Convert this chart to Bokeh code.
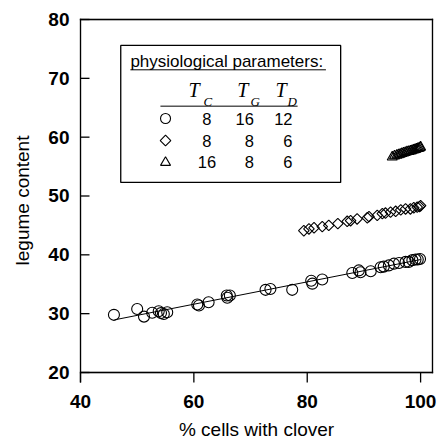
import numpy as np
from bokeh.plotting import figure
from bokeh.models import Range1d, FixedTicker, BoxAnnotation
from bokeh.core.properties import value
from bokeh.embed import file_html
from bokeh.resources import INLINE

# ---- data ----
circ_x = [45.9, 50.0, 51.2, 52.65, 53.8, 54.2, 54.7, 55.3, 60.6, 60.9, 62.6, 65.8, 65.9, 66.35,
          72.65, 73.5, 77.35, 80.7, 80.9, 82.65, 87.95, 89.1, 89.4, 91.2, 92.95, 93.5, 94.4,
          95.3, 96.2, 97.35, 97.9, 98.55, 99.1, 99.5, 99.9]
circ_y = [29.8, 30.8, 29.5, 30.15, 30.4, 30.1, 29.95, 30.25, 31.55, 31.4, 31.95, 33.1, 32.7, 33.1,
          34.05, 34.2, 34.05, 35.6, 35.1, 35.8, 36.9, 37.35, 37.05, 37.2, 37.9, 38.0, 38.2,
          38.5, 38.6, 38.8, 38.8, 39.1, 39.2, 39.2, 39.3]

diam_x = [79.4, 80.3, 81.2, 82.65, 83.8, 85.4, 87.05, 87.65, 88.8, 90.6, 90.9, 92.35, 93.25,
          93.8, 94.7, 95.6, 96.5, 97.35, 98.2, 98.8, 99.4, 99.8, 100.0]
diam_y = [44.1, 44.4, 44.6, 44.8, 45.0, 45.3, 45.7, 45.8, 46.1, 46.3, 46.5, 46.7, 47.0,
          47.1, 47.25, 47.4, 47.65, 47.8, 47.8, 48.0, 48.1, 48.2, 48.35]

tri_x = [95.0, 95.4, 95.8, 96.1, 96.4, 96.7, 97.0, 97.3, 97.6, 97.9, 98.2, 98.4, 98.7, 98.9,
         99.1, 99.3, 99.5, 99.7, 99.9, 100.0]
tri_y = [56.6, 56.8, 56.9, 57.0, 57.1, 57.2, 57.3, 57.4, 57.5, 57.55, 57.65, 57.7, 57.8, 57.85,
         57.9, 58.0, 58.05, 58.1, 58.2, 58.3]

fit_x = [46.0, 100.0]
fit_y = [28.95, 39.2]

x_ticks = [40, 60, 80, 100]
y_ticks = [20, 30, 40, 50, 60, 70, 80]

legend_title = "physiological parameters:"
param_names = ["C", "G", "D"]
param_rows = [["8", "16", "12"], ["8", "8", "6"], ["16", "8", "6"]]
row_markers = ["circle", "diamond", "triangle"]

FONT = "Liberation Sans"

# axes box limits (data units) and pixel scale helpers (layout only)
XMIN, XMAX, YMIN, YMAX = 40.0, 102.1, 20.0, 80.0
PXX, PXY = 5.668, 5.883          # pixels per data unit
YTICK_LEN = 9 / PXX              # inward y ticks
XTICK_LEN = 10 / PXY             # outward x ticks
HX = 0.65 / PXX                  # half line thickness in x units
HY = 0.65 / PXY                  # half line thickness in y units

p = figure(width=440, height=442, output_backend="svg", toolbar_location=None,
           x_range=Range1d(XMIN - 1 / PXX, XMAX + 1 / PXX),
           y_range=Range1d(YMIN - XTICK_LEN, YMAX + 1 / PXY),
           min_border_left=79, min_border_right=7, min_border_top=18, min_border_bottom=60)
p.background_fill_color = None
p.border_fill_color = None
p.outline_line_color = None
p.xgrid.grid_line_color = None
p.ygrid.grid_line_color = None

for ax in (p.xaxis[0], p.yaxis[0]):
    ax.axis_line_color = None
    ax.major_tick_line_color = None
    ax.minor_tick_line_color = None
    ax.major_tick_in = 0
    ax.major_tick_out = 0
    ax.major_label_text_font = FONT
    ax.major_label_text_font_size = "19px"
    ax.major_label_text_font_style = "bold"
    ax.major_label_text_color = "black"
    ax.axis_label_text_font = FONT
    ax.axis_label_text_font_size = "19px"
    ax.axis_label_text_font_style = "normal"
    ax.axis_label_text_color = "black"

p.xaxis.ticker = FixedTicker(ticks=x_ticks)
p.yaxis.ticker = FixedTicker(ticks=y_ticks)
p.xaxis.major_label_standoff = 12
p.xaxis.axis_label = "% cells with clover"
p.xaxis.axis_label_standoff = 8
p.yaxis.major_label_standoff = 10
p.yaxis.axis_label = "legume content"
p.yaxis.axis_label_standoff = 12

# white plot box under the data (its border is the frame)
p.add_layout(BoxAnnotation(left=XMIN, right=XMAX, bottom=YMIN, top=YMAX, fill_color="white",
                           fill_alpha=1, line_color="black", line_width=1.3, level="underlay"))

# frame edges and ticks as thin filled bars
bar_l = [XMIN - HX, XMIN - HX, XMAX - HX, XMIN - HX]
bar_r = [XMIN + HX, XMAX + HX, XMAX + HX, XMAX + HX]
bar_b = [YMIN - XTICK_LEN, YMIN - HY, YMIN - HY, YMAX - HY]
bar_t = [YMAX + HY, YMIN + HY, YMAX + HY, YMAX + HY]
bar_l += [XMIN] * len(y_ticks)
bar_r += [XMIN + YTICK_LEN] * len(y_ticks)
bar_b += [yt - HY for yt in y_ticks]
bar_t += [yt + HY for yt in y_ticks]
bar_l += [xt - HX for xt in x_ticks]
bar_r += [xt + HX for xt in x_ticks]
bar_b += [YMIN - XTICK_LEN] * len(x_ticks)
bar_t += [YMIN] * len(x_ticks)
p.quad(left=bar_l, right=bar_r, bottom=bar_b, top=bar_t, fill_color="black", fill_alpha=1,
       line_color=None, level="overlay")

# data
p.line(fit_x, fit_y, line_color="black", line_width=1)
p.scatter(circ_x, circ_y, marker="circle", size=11, fill_color=None, line_color="black", line_width=1.1)
p.scatter(diam_x, diam_y, marker="square", angle=np.pi / 4, size=7.5, fill_color=None,
          line_color="black", line_width=1.1)
p.scatter(tri_x, tri_y, marker="triangle", size=10, fill_color=None, line_color="black", line_width=1.1)

# ---- legend table (layout in data units) ----
LX0, LX1, LY0, LY1 = 47.1, 85.9, 52.3, 75.6
p.add_layout(BoxAnnotation(left=LX0, right=LX1, bottom=LY0, top=LY1, fill_color="white", fill_alpha=1,
                           line_color="black", line_width=1.3, line_alpha=1, level="annotation"))
p.text([48.8], [72.8], text=[legend_title], text_font=value(FONT), text_font_size="17px",
       text_baseline="middle", text_align="left", text_color="black", level="overlay")
p.line([48.8, 83.3], [71.45, 71.45], line_color="black", line_width=1, level="overlay")

head_T_x = [59.06, 67.65, 74.4]
head_sub_x = [61.7, 70.0, 76.5]
p.text(head_T_x, [67.95] * 3, text=["T"] * 3, text_font=value("Liberation Serif"), text_font_size="20px",
       text_font_style="italic", text_baseline="middle", text_color="black", level="overlay")
p.text(head_sub_x, [66.05] * 3, text=param_names, text_font=value("Liberation Serif"), text_font_size="13px",
       text_font_style="italic", text_baseline="middle", text_color="black", level="overlay")
p.line([54.1, 78.3], [65.27, 65.27], line_color="black", line_width=1, level="overlay")

row_y = [63.17, 59.43, 55.7]
sym_x = 55.0
for m, yy in zip(row_markers, row_y):
    if m == "diamond":
        p.scatter([sym_x], [yy], marker="square", angle=np.pi / 4, size=7.5, fill_color=None,
                  line_color="black", line_width=1.1, level="overlay")
    else:
        p.scatter([sym_x], [yy], marker=m, size=10, fill_color=None, line_color="black",
                  line_width=1.1, level="overlay")
col_x = [62.3, 70.6, 77.4]
col_align = ["center", "right", "right"]
for ci in range(3):
    p.text([col_x[ci]] * 3, row_y, text=[r[ci] for r in param_rows], text_font=value(FONT),
           text_font_size="16.5px", text_align=col_align[ci], text_baseline="middle",
           text_color="black", level="overlay")

open("out.html", "w").write(file_html(p, INLINE))
